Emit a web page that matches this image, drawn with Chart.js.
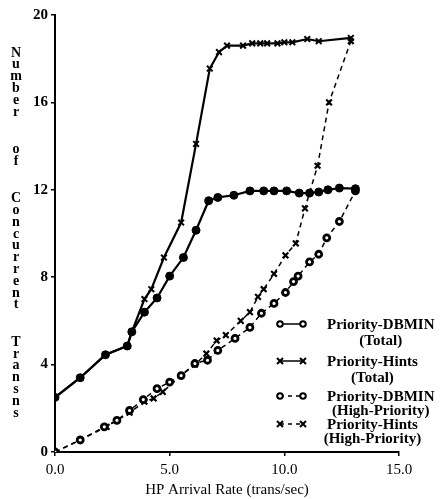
<!DOCTYPE html>
<html>
<head>
<meta charset="utf-8">
<script src="https://cdn.jsdelivr.net/npm/chart.js@4/dist/chart.umd.min.js"></script>
<style>
  html, body { margin: 0; padding: 0; background: #fff; }
  #wrap { width: 442px; height: 499px; }
</style>
</head>
<body>
<div id="wrap"><canvas id="chart1" width="442" height="499"></canvas></div>
<script>
// values
var dbminTotalX = [0, 1.1, 2.2, 3.15, 3.35, 3.9, 4.45, 5.0, 5.6, 6.15, 6.7, 7.1, 7.8, 8.5, 9.1, 9.55, 10.1, 10.65, 11.1, 11.5, 11.9, 12.4, 13.1];
var dbminTotalY = [2.5, 3.4, 4.45, 4.85, 5.5, 6.4, 7.05, 8.05, 8.9, 10.15, 11.5, 11.65, 11.75, 11.95, 11.95, 11.95, 11.95, 11.85, 11.85, 11.9, 12.0, 12.08, 12.05];

var hintsTotalX = [0, 1.1, 2.2, 3.15, 3.35, 3.9, 4.2, 4.75, 5.5, 6.15, 6.75, 7.15, 7.5, 8.2, 8.6, 8.95, 9.25, 9.7, 10.0, 10.35, 11.0, 11.5, 12.9];
var hintsTotalY = [2.5, 3.4, 4.45, 4.85, 5.5, 7.0, 7.45, 8.9, 10.5, 14.1, 17.55, 18.3, 18.6, 18.6, 18.7, 18.7, 18.7, 18.7, 18.75, 18.75, 18.9, 18.8, 18.95];

var dbminHighX = [0, 1.1, 2.15, 2.7, 3.25, 3.85, 4.45, 5.0, 5.5, 6.1, 6.65, 7.1, 7.85, 8.5, 9.0, 9.55, 10.05, 10.4, 10.6, 11.1, 11.5, 11.85, 12.4, 13.1];
var dbminHighY = [0, 0.55, 1.15, 1.45, 1.9, 2.4, 2.9, 3.2, 3.5, 4.05, 4.2, 4.65, 5.2, 5.7, 6.35, 6.8, 7.3, 7.8, 8.05, 8.7, 9.05, 9.8, 10.55, 11.95];

var hintsHighX = [0, 1.1, 2.25, 2.7, 3.25, 3.9, 4.3, 4.7, 5.5, 6.1, 6.6, 7.05, 7.45, 8.1, 8.5, 8.85, 9.1, 9.55, 10.05, 10.5, 10.9, 11.45, 11.95, 12.9];
var hintsHighY = [0, 0.55, 1.15, 1.45, 1.8, 2.3, 2.45, 2.75, 3.5, 4.0, 4.5, 5.1, 5.35, 6.0, 6.4, 7.1, 7.45, 8.15, 9.0, 9.55, 11.15, 13.1, 16.0, 18.8];

var xTicks = [0, 5, 10, 15];
var yTicks = [0, 4, 8, 12, 16, 20];
var xTitle = 'HP Arrival Rate (trans/sec)';
var yTitle = 'Number of Concurrent Transns';
var legendLines = [
  ['Priority-DBMIN', '(Total)'],
  ['Priority-Hints', '(Total)'],
  ['Priority-DBMIN', '(High-Priority)'],
  ['Priority-Hints', '(High-Priority)']
];

function pts(xs, ys) {
  return xs.map(function (x, i) { return { x: x, y: ys[i] }; });
}

var serif = "'Liberation Serif', 'DejaVu Serif', serif";

// stacked upright letters for the y title, plus the two-line legend
var extras = {
  id: 'extras',
  afterDraw: function (chart) {
    var ctx = chart.ctx;
    var area = chart.chartArea;
    ctx.save();
    ctx.fillStyle = '#000';
    ctx.strokeStyle = '#000';

    // y title
    ctx.font = 'bold 14px ' + serif;
    ctx.textAlign = 'center';
    ctx.textBaseline = 'middle';
    var y = 53;
    for (var i = 0; i < yTitle.length; i++) {
      var ch = yTitle[i];
      if (ch === ' ') { y += 25.6; continue; }
      ctx.fillText(ch, 16, y);
      y += 11.8;
    }

    // legend
    var lx0 = area.left + 225, lx1 = area.left + 248;
    var tx = area.left + 272;
    var rows = [area.top + 309, area.top + 346, area.top + 381, area.top + 409];
    var gaps = [16, 16, 14, 14];
    var styles = ['circle', 'cross', 'circle', 'cross'];
    ctx.font = 'bold 15px ' + serif;
    for (var k = 0; k < legendLines.length; k++) {
      var ry = rows[k];
      ctx.lineWidth = 1.5;
      ctx.setLineDash(k < 2 ? [] : [4, 4]);
      ctx.beginPath();
      ctx.moveTo(lx0, ry);
      ctx.lineTo(lx1, ry);
      ctx.stroke();
      ctx.setLineDash([]);
      [lx0, lx1].forEach(function (px) {
        ctx.lineWidth = 2;
        if (styles[k] === 'circle') {
          ctx.beginPath();
          ctx.arc(px, ry, 2.8, 0, Math.PI * 2);
          ctx.fillStyle = '#fff';
          ctx.fill();
          ctx.stroke();
          ctx.fillStyle = '#000';
        } else {
          ctx.beginPath();
          ctx.moveTo(px - 3, ry - 3); ctx.lineTo(px + 3, ry + 3);
          ctx.moveTo(px + 3, ry - 3); ctx.lineTo(px - 3, ry + 3);
          ctx.stroke();
        }
      });
      ctx.textAlign = 'left';
      ctx.fillText(legendLines[k][0], tx, ry + 1);
      var w = ctx.measureText(legendLines[k][0]).width;
      ctx.textAlign = 'center';
      ctx.fillText(legendLines[k][1], tx + w / 2, ry + 1 + gaps[k]);
    }
    ctx.restore();
  }
};

var ctx = document.getElementById('chart1');
var chart1 = new Chart(ctx, {
  type: 'line',
  data: {
    datasets: [
      {
        label: 'Priority-DBMIN (Total)',
        data: pts(dbminTotalX, dbminTotalY),
        borderColor: '#000',
        borderWidth: 2.2,
        pointStyle: 'circle',
        pointRadius: 4,
        pointBackgroundColor: '#000',
        pointBorderColor: '#000',
        pointBorderWidth: 1
      },
      {
        label: 'Priority-Hints (Total)',
        data: pts(hintsTotalX, hintsTotalY),
        borderColor: '#000',
        borderWidth: 2.2,
        pointStyle: 'crossRot',
        pointRadius: 4,
        pointBorderColor: '#000',
        pointBorderWidth: 2
      },
      {
        label: 'Priority-DBMIN (High-Priority)',
        data: pts(dbminHighX, dbminHighY),
        borderColor: '#000',
        borderWidth: 1.5,
        borderDash: [5, 4],
        pointStyle: 'circle',
        pointRadius: 3,
        pointBackgroundColor: '#fff',
        pointBorderColor: '#000',
        pointBorderWidth: 2.8
      },
      {
        label: 'Priority-Hints (High-Priority)',
        data: pts(hintsHighX, hintsHighY),
        borderColor: '#000',
        borderWidth: 1.5,
        borderDash: [5, 4],
        pointStyle: 'crossRot',
        pointRadius: 4,
        pointBorderColor: '#000',
        pointBorderWidth: 2.2
      }
    ]
  },
  options: {
    responsive: false,
    animation: false,
    layout: { padding: { top: 15, right: 43, left: 0, bottom: 0 } },
    plugins: {
      legend: { display: false },
      tooltip: { enabled: false }
    },
    scales: {
      x: {
        type: 'linear',
        min: 0,
        max: 15,
        afterFit: function (s) { s.height = 47; },
        afterBuildTicks: function (s) { s.ticks = xTicks.map(function (v) { return { value: v }; }); },
        border: { display: true, color: '#000', width: 2 },
        grid: { drawOnChartArea: false, color: '#000', tickLength: 4, lineWidth: 1.5 },
        ticks: {
          color: '#000',
          padding: 5,
          maxRotation: 0,
          font: { family: serif, size: 15 },
          callback: function (v) { return v.toFixed(1); }
        },
        title: {
          display: true,
          text: xTitle,
          color: '#000',
          padding: { top: 0, bottom: 0 },
          font: { family: serif, size: 15 }
        }
      },
      y: {
        min: 0,
        max: 20,
        afterFit: function (s) { s.width = 55; },
        afterBuildTicks: function (s) { s.ticks = yTicks.map(function (v) { return { value: v }; }); },
        border: { display: true, color: '#000', width: 2 },
        grid: { drawOnChartArea: false, color: '#000', tickLength: 4, lineWidth: 1.5 },
        ticks: {
          color: '#000',
          padding: 3,
          font: { family: serif, size: 15, weight: 'bold' }
        }
      }
    }
  },
  plugins: [extras]
});
</script>
</body>
</html>
